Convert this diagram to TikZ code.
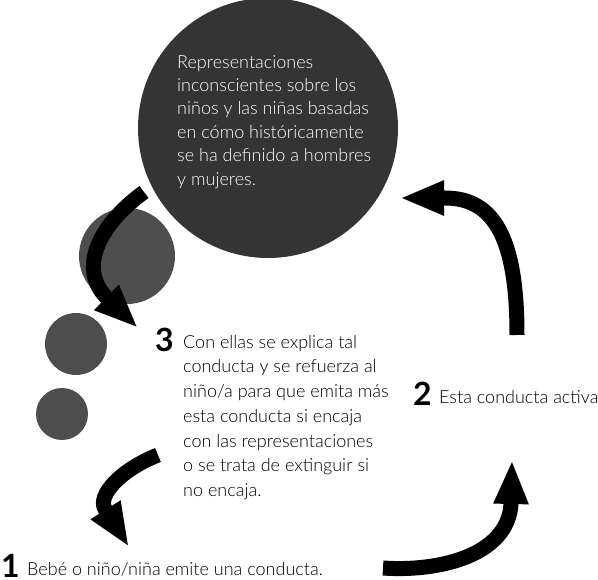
\documentclass[tikz,border=0pt]{standalone}
\usepackage{fontspec}
\setmainfont{Lato}[UprightFont=* Light, BoldFont=* Bold]
\usetikzlibrary{arrows.meta}
\definecolor{CircDark}{RGB}{52,52,52}
\definecolor{CircGray}{RGB}{78,78,78}

\begin{document}
\begin{tikzpicture}[x=1pt, y=-1pt,
    blob/.style={circle, inner sep=0pt, fill=CircGray},
    txt/.style={inner sep=0pt, align=left, font=\fontsize{18}{23.4}\selectfont},
    num/.style={inner sep=0pt, anchor=base west, font=\fontsize{32}{32}\selectfont\bfseries},
    bigarrow/.style={line width=15pt, -{Triangle[width=32pt, length=44pt]}}
  ]
  \useasboundingbox (0,0) rectangle (598,580);

  % circles
  \node[blob, fill=CircDark, minimum size=260pt] (repr) at (268,128) {};
  \node[blob, minimum size=96pt] (dotA) at (127,256) {};
  \node[blob, minimum size=62pt] (dotB) at (76,344) {};
  \node[blob, minimum size=52pt] (dotC) at (62,414) {};

  % texts
  \node[txt, text=white, anchor=north west] (reprtxt) at (177,55)
        {Representaciones\\inconscientes sobre los\\niños y las niñas basadas\\en cómo históricamente\\se ha definido a hombres\\y mujeres.};
  \node[num] (n3) at (155,352) {3};
  \node[txt, anchor=north west, font=\fontsize{18}{24.7}\selectfont] (step3) at (183,335)
        {Con ellas se explica tal\\conducta y se refuerza al\\niño/a para que emita más\\esta conducta si encaja\\con las representaciones\\o se trata de extinguir si\\no encaja.};
  \node[num] (n2) at (413,406) {2};
  \node[txt, anchor=base west] (step2) at (439,404) {Esta conducta activa};
  \node[num] (n1) at (1,577) {1};
  \node[txt, anchor=base west] (step1) at (27,575) {Bebé o niño/niña emite una conducta.};

  % arrows
  \coordinate (aS) at (144,192);
  \coordinate (aE) at (138,328);
  \coordinate (bS) at (517,335);
  \coordinate (bE) at (400,198);
  \coordinate (cS) at (158,455);
  \coordinate (cE) at (129,547);
  \coordinate (dS) at (383,568);
  \coordinate (dE) at (512,460);
  \draw[bigarrow] (aS) .. controls (95,228) and (80,270) .. (106,297) -- (aE);
  \draw[bigarrow] (bS) .. controls (517,240) and (495,198) .. (445,198) -- (bE);
  \draw[bigarrow] (cS) .. controls (120,470) and (97,496) .. (105,509) -- (cE);
  \draw[bigarrow] (dS) .. controls (440,572) and (508,555) .. (511,504) -- (dE);
\end{tikzpicture}
\end{document}
